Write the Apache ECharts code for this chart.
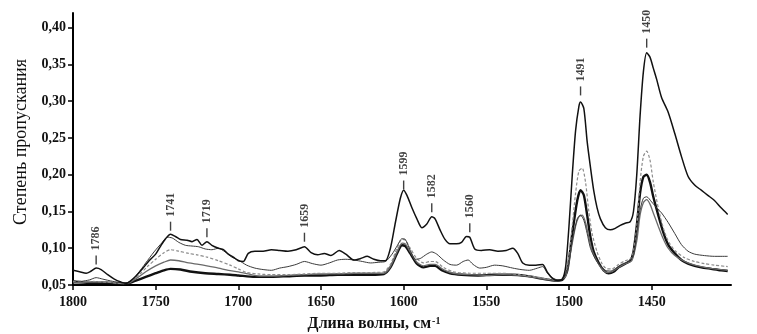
<!DOCTYPE html>
<html>
<head>
<meta charset="utf-8">
<script src="https://cdn.jsdelivr.net/npm/echarts@6/dist/echarts.min.js"></script>
<style>
  html, body { margin: 0; padding: 0; background: #fff; }
  #chart { width: 757px; height: 334px; }
</style>
</head>
<body>
<div id="chart"></div>
<script>
// tick labels
var xTicks = [1450, 1500, 1550, 1600, 1650, 1700, 1750, 1800];
var yTicks = [0.05, 0.10, 0.15, 0.20, 0.25, 0.30, 0.35, 0.40];

// peak labels: text, position (cm-1), level of the dash
var peakText = ['1786', '1741', '1719', '1659', '1599', '1582', '1560', '1491', '1450'];
var peakPos = [1786, 1741, 1719, 1660, 1600, 1583, 1560, 1493, 1453];
var peakY = [0.084, 0.130, 0.121, 0.115, 0.186, 0.155, 0.128, 0.314, 0.379];

// top curve
var curveA = [
    [1800, 0.070], [1796, 0.068], [1792, 0.066], [1789, 0.069], [1786, 0.073], [1783, 0.071], [1779, 0.064],
    [1775, 0.058], [1771, 0.054], [1768, 0.052], [1765, 0.056], [1762, 0.062], [1758, 0.072], [1754, 0.083],
    [1750, 0.092], [1747, 0.103], [1744, 0.113], [1741, 0.119], [1738, 0.116], [1735, 0.112], [1731, 0.111],
    [1728, 0.109], [1725, 0.112], [1722, 0.104], [1719, 0.109], [1716, 0.104], [1712, 0.100], [1709, 0.098],
    [1706, 0.092], [1703, 0.088], [1700, 0.083], [1697, 0.082], [1694, 0.093], [1690, 0.096], [1685, 0.096],
    [1680, 0.098], [1675, 0.097], [1670, 0.096], [1665, 0.098], [1660, 0.102], [1656, 0.094], [1652, 0.091],
    [1648, 0.093], [1644, 0.090], [1639, 0.097], [1635, 0.092], [1630, 0.084], [1626, 0.086], [1622, 0.089],
    [1618, 0.085], [1614, 0.083], [1611, 0.083], [1608, 0.100], [1605, 0.135], [1602, 0.168], [1600, 0.179],
    [1598, 0.172], [1595, 0.155], [1592, 0.140], [1589, 0.128], [1586, 0.133], [1583, 0.143], [1581, 0.140],
    [1578, 0.125], [1575, 0.112], [1572, 0.106], [1568, 0.106], [1565, 0.108], [1562, 0.116], [1560, 0.115],
    [1557, 0.099], [1553, 0.097], [1548, 0.098], [1543, 0.096], [1538, 0.097], [1534, 0.100], [1531, 0.093],
    [1528, 0.080], [1524, 0.077], [1520, 0.077], [1516, 0.078], [1513, 0.067], [1510, 0.059], [1507, 0.056],
    [1504, 0.058], [1502, 0.075], [1500, 0.130], [1498, 0.200], [1496, 0.260], [1494, 0.293], [1493, 0.299],
    [1491, 0.290], [1489, 0.245], [1487, 0.210], [1485, 0.178], [1483, 0.155], [1481, 0.140], [1478, 0.128],
    [1475, 0.125], [1472, 0.127], [1469, 0.131], [1466, 0.134], [1463, 0.136], [1461, 0.150], [1459, 0.200],
    [1457, 0.280], [1455, 0.340], [1453, 0.366], [1451, 0.360], [1449, 0.345], [1447, 0.330], [1444, 0.305],
    [1440, 0.285], [1436, 0.256], [1432, 0.225], [1428, 0.198], [1424, 0.186], [1420, 0.179], [1416, 0.172],
    [1412, 0.165], [1408, 0.155], [1404, 0.146]
];

// thin dark grey, second from top
var curveB = [
    [1800, 0.056], [1795, 0.055], [1790, 0.057], [1786, 0.060], [1782, 0.058], [1776, 0.055], [1770, 0.053],
    [1766, 0.054], [1761, 0.065], [1756, 0.080], [1751, 0.095], [1746, 0.108], [1743, 0.115], [1740, 0.114],
    [1736, 0.108], [1732, 0.104], [1728, 0.103], [1724, 0.102], [1720, 0.099], [1716, 0.098], [1712, 0.100],
    [1708, 0.095], [1704, 0.088], [1700, 0.084], [1695, 0.077], [1690, 0.073], [1685, 0.071], [1680, 0.070],
    [1675, 0.073], [1670, 0.075], [1665, 0.078], [1660, 0.082], [1655, 0.079], [1650, 0.077], [1645, 0.080],
    [1640, 0.084], [1635, 0.085], [1630, 0.084], [1625, 0.082], [1620, 0.080], [1615, 0.081], [1611, 0.082],
    [1607, 0.092], [1604, 0.103], [1601, 0.113], [1599, 0.112], [1596, 0.097], [1593, 0.085], [1590, 0.086],
    [1586, 0.092], [1583, 0.095], [1580, 0.092], [1576, 0.084], [1572, 0.078], [1568, 0.077], [1564, 0.082],
    [1561, 0.084], [1558, 0.078], [1554, 0.073], [1550, 0.074], [1545, 0.077], [1540, 0.076], [1534, 0.073],
    [1529, 0.071], [1524, 0.070], [1519, 0.073], [1516, 0.075], [1513, 0.066], [1510, 0.060], [1507, 0.057],
    [1504, 0.058], [1501, 0.070], [1498, 0.110], [1495, 0.140], [1493, 0.145], [1491, 0.138], [1489, 0.120],
    [1487, 0.100], [1484, 0.085], [1481, 0.076], [1478, 0.070], [1475, 0.069], [1472, 0.072], [1468, 0.078],
    [1464, 0.082], [1461, 0.090], [1459, 0.120], [1457, 0.152], [1455, 0.168], [1453, 0.170], [1450, 0.163],
    [1447, 0.155], [1444, 0.148], [1440, 0.135], [1436, 0.120], [1432, 0.105], [1428, 0.096], [1424, 0.092],
    [1418, 0.090], [1412, 0.089], [1404, 0.089]
];

// dashed grey
var curveC = [
    [1800, 0.055], [1790, 0.055], [1780, 0.054], [1770, 0.052], [1766, 0.054], [1760, 0.064], [1755, 0.075],
    [1750, 0.085], [1745, 0.094], [1741, 0.098], [1736, 0.096], [1730, 0.093], [1725, 0.091], [1719, 0.088],
    [1712, 0.083], [1705, 0.077], [1700, 0.072], [1695, 0.067], [1688, 0.065], [1680, 0.064], [1670, 0.064],
    [1660, 0.065], [1650, 0.066], [1640, 0.066], [1630, 0.067], [1620, 0.067], [1612, 0.068], [1608, 0.078],
    [1604, 0.100], [1601, 0.112], [1599, 0.111], [1596, 0.100], [1592, 0.086], [1588, 0.080], [1584, 0.082],
    [1581, 0.082], [1576, 0.074], [1570, 0.068], [1560, 0.066], [1550, 0.066], [1540, 0.066], [1530, 0.064],
    [1520, 0.061], [1512, 0.058], [1506, 0.057], [1502, 0.065], [1499, 0.110], [1496, 0.175], [1494, 0.205],
    [1492, 0.209], [1490, 0.190], [1488, 0.150], [1486, 0.120], [1483, 0.095], [1480, 0.079], [1477, 0.072],
    [1474, 0.072], [1470, 0.078], [1466, 0.083], [1462, 0.087], [1459, 0.130], [1457, 0.190], [1455, 0.225],
    [1453, 0.232], [1451, 0.220], [1449, 0.190], [1446, 0.155], [1443, 0.128], [1440, 0.110], [1436, 0.097],
    [1430, 0.087], [1424, 0.082], [1418, 0.079], [1412, 0.077], [1404, 0.075]
];

// medium grey
var curveD = [
    [1800, 0.053], [1790, 0.054], [1780, 0.054], [1770, 0.052], [1766, 0.053], [1761, 0.060], [1756, 0.068],
    [1750, 0.076], [1745, 0.081], [1741, 0.084], [1736, 0.083], [1730, 0.080], [1724, 0.078], [1719, 0.076],
    [1712, 0.073], [1706, 0.070], [1700, 0.068], [1694, 0.065], [1686, 0.062], [1678, 0.062], [1670, 0.063],
    [1660, 0.064], [1650, 0.065], [1640, 0.065], [1630, 0.066], [1620, 0.066], [1612, 0.066], [1608, 0.075],
    [1604, 0.095], [1601, 0.107], [1599, 0.106], [1596, 0.095], [1592, 0.081], [1588, 0.076], [1584, 0.078],
    [1581, 0.078], [1576, 0.071], [1570, 0.066], [1560, 0.064], [1550, 0.063], [1540, 0.064], [1530, 0.063],
    [1520, 0.060], [1512, 0.057], [1506, 0.056], [1502, 0.062], [1499, 0.095], [1496, 0.130], [1494, 0.143],
    [1492, 0.145], [1490, 0.135], [1488, 0.115], [1486, 0.097], [1483, 0.082], [1480, 0.072], [1477, 0.067],
    [1474, 0.068], [1470, 0.074], [1466, 0.079], [1462, 0.083], [1459, 0.110], [1457, 0.145], [1455, 0.162],
    [1453, 0.166], [1451, 0.160], [1449, 0.148], [1446, 0.130], [1443, 0.113], [1440, 0.100], [1436, 0.090],
    [1430, 0.082], [1424, 0.077], [1418, 0.074], [1412, 0.072], [1404, 0.070]
];

// thick black, lowest
var curveE = [
    [1800, 0.054], [1790, 0.053], [1780, 0.053], [1770, 0.052], [1767, 0.052], [1762, 0.056], [1756, 0.061],
    [1750, 0.066], [1745, 0.070], [1741, 0.072], [1735, 0.071], [1728, 0.068], [1720, 0.066], [1712, 0.065],
    [1705, 0.064], [1700, 0.063], [1690, 0.061], [1680, 0.061], [1670, 0.062], [1660, 0.063], [1650, 0.063],
    [1640, 0.064], [1630, 0.064], [1620, 0.064], [1612, 0.065], [1608, 0.074], [1604, 0.093], [1601, 0.104],
    [1599, 0.103], [1596, 0.093], [1592, 0.079], [1588, 0.074], [1584, 0.076], [1581, 0.076], [1577, 0.070],
    [1572, 0.066], [1565, 0.064], [1555, 0.063], [1545, 0.064], [1535, 0.064], [1525, 0.062], [1515, 0.058],
    [1508, 0.056], [1504, 0.057], [1501, 0.070], [1498, 0.120], [1495, 0.165], [1493, 0.179], [1491, 0.172],
    [1489, 0.145], [1487, 0.115], [1485, 0.095], [1482, 0.080], [1479, 0.070], [1476, 0.066], [1473, 0.068],
    [1470, 0.074], [1466, 0.079], [1463, 0.083], [1461, 0.095], [1459, 0.130], [1457, 0.175], [1455, 0.197],
    [1453, 0.200], [1451, 0.190], [1449, 0.170], [1446, 0.145], [1443, 0.122], [1440, 0.105], [1436, 0.093],
    [1432, 0.084], [1428, 0.079], [1424, 0.076], [1420, 0.074], [1414, 0.072], [1408, 0.070], [1404, 0.069]
];

var serif = '"Liberation Serif", "DejaVu Serif", serif';

var peaks = [];
for (var i = 0; i < peakPos.length; i++) {
    peaks.push([peakPos[i], peakY[i], peakText[i]]);
}

function lineSeries(name, data, color, width, type) {
    return {
        name: name,
        type: 'line',
        data: data,
        showSymbol: false,
        smooth: 0.25,
        lineStyle: { color: color, width: width, type: type || 'solid' },
        emphasis: { disabled: true }
    };
}

var chart = echarts.init(document.getElementById('chart'));

var option = {
    backgroundColor: '#fff',
    animation: false,
    grid: {
        left: 73,
        right: 26,
        top: 13,
        bottom: 49,
        outerBoundsMode: 'none'
    },
    xAxis: {
        type: 'value',
        inverse: true,
        min: 1402,
        max: 1800,
        name: 'Длина волны, см{s|-1}',
        nameLocation: 'middle',
        nameGap: 31,
        nameTextStyle: {
            fontFamily: serif,
            fontWeight: 'bold',
            fontSize: 16,
            color: '#111',
            padding: [0, 56, 0, 0],
            rich: {
                s: { fontFamily: serif, fontWeight: 'bold', fontSize: 10, color: '#111', verticalAlign: 'top', padding: [0, 0, 6, 1] }
            }
        },
        axisLine: { lineStyle: { color: '#000', width: 2 } },
        axisTick: { length: 5, lineStyle: { color: '#000', width: 1.5 }, customValues: xTicks },
        axisLabel: {
            customValues: xTicks,
            margin: 10,
            fontFamily: serif,
            fontWeight: 'bold',
            fontSize: 14,
            color: '#111',
            formatter: function(v) {
                return String(v);
            }
        },
        splitLine: { show: false }
    },
    yAxis: {
        type: 'value',
        min: 0.05,
        max: 0.42,
        name: 'Степень пропускания',
        nameLocation: 'middle',
        nameGap: 43,
        nameTextStyle: {
            fontFamily: serif,
            fontSize: 18,
            color: '#111',
            padding: [0, 0, 0, 14]
        },
        axisLine: { show: true, lineStyle: { color: '#000', width: 2 } },
        axisTick: { show: true, length: 5, lineStyle: { color: '#000', width: 1.5 }, customValues: yTicks },
        axisLabel: {
            customValues: yTicks,
            margin: 7,
            fontFamily: serif,
            fontWeight: 'bold',
            fontSize: 14,
            color: '#111',
            formatter: function(v) {
                return v.toFixed(2).replace('.', ',');
            }
        },
        splitLine: { show: false }
    },
    series: [
        lineSeries('E', curveE, '#111', 2.4),
        lineSeries('D', curveD, '#6a6a6a', 1.3),
        lineSeries('C', curveC, '#8c8c8c', 1.2, [3, 2]),
        lineSeries('B', curveB, '#3a3a3a', 1),
        lineSeries('A', curveA, '#111', 1.5),
        {
            name: 'peaks',
            type: 'scatter',
            data: peaks,
            symbol: 'rect',
            symbolSize: [1.4, 9],
            itemStyle: { color: '#111' },
            z: 5,
            emphasis: { disabled: true },
            label: {
                show: true,
                position: 'top',
                distance: 5,
                rotate: 90,
                align: 'left',
                verticalAlign: 'middle',
                fontFamily: serif,
                fontWeight: 'bold',
                fontSize: 12,
                color: '#111',
                formatter: function(p) {
                    return p.data[2];
                }
            }
        }
    ]
};

chart.setOption(option);
</script>
</body>
</html>
